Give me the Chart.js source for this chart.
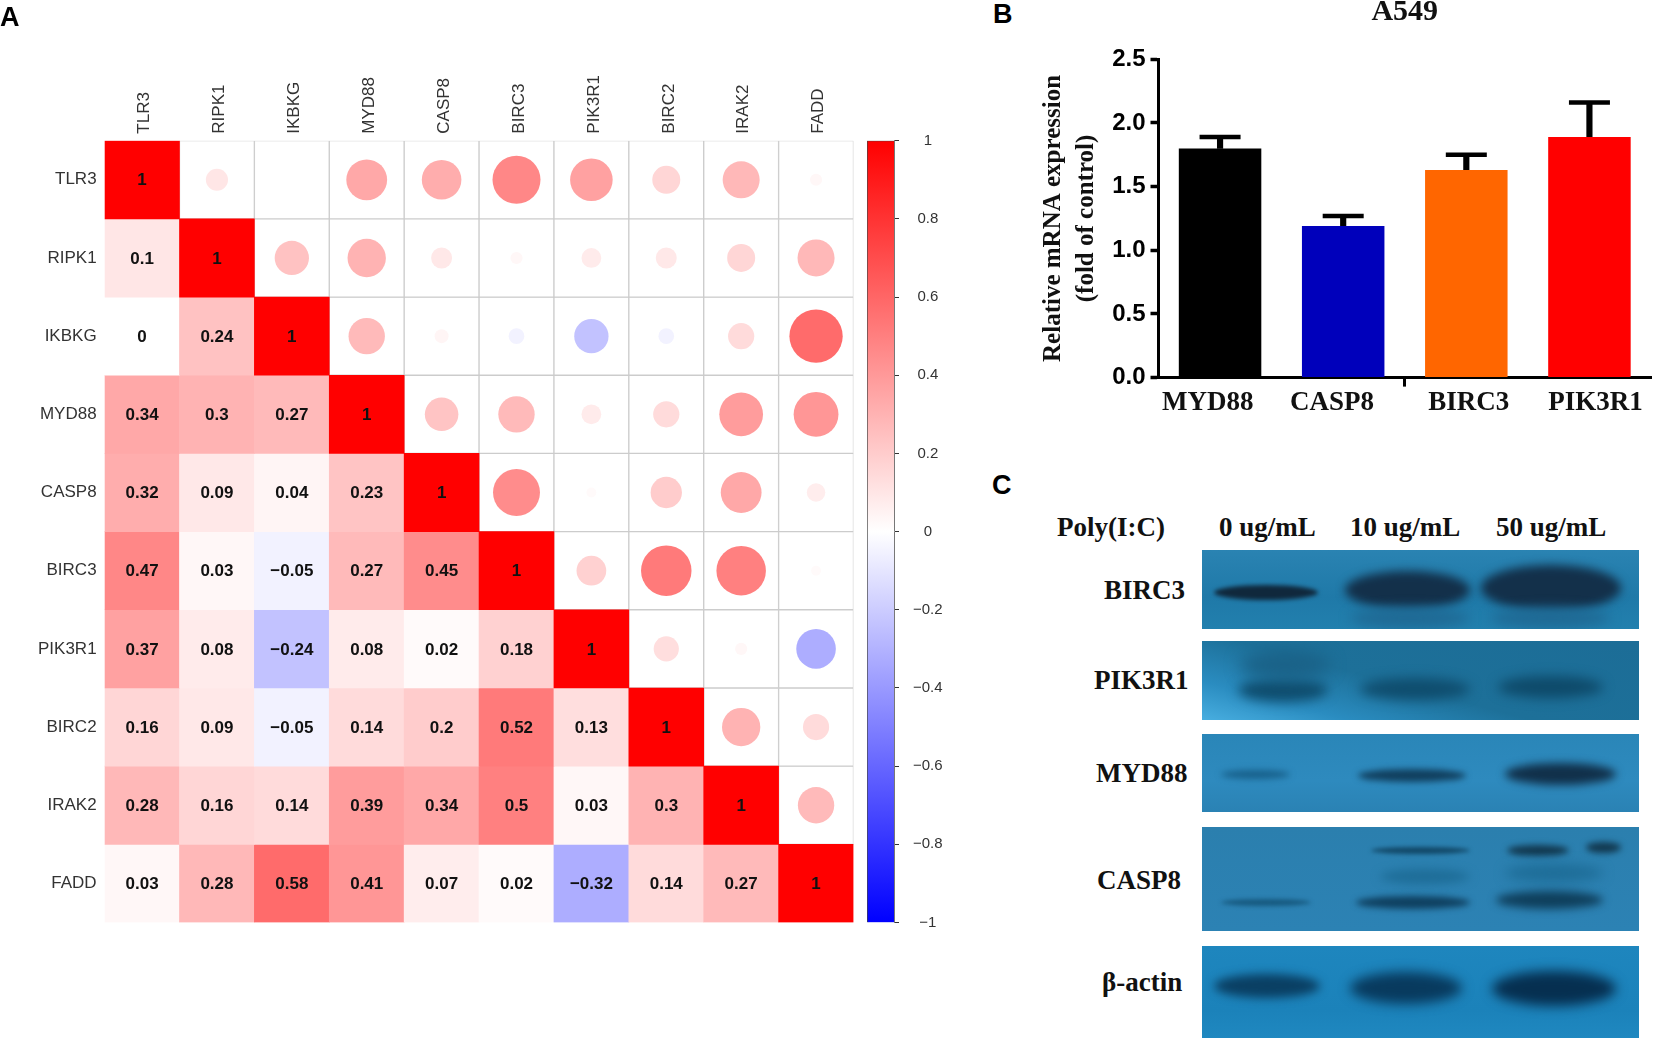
<!DOCTYPE html>
<html>
<head>
<meta charset="utf-8">
<title>A549</title>
<script src="https://cdn.jsdelivr.net/npm/chart.js@4/dist/chart.umd.min.js"></script>
<style>
  html, body { margin: 0; padding: 0; background: #fff; }
  body { position: relative; width: 1654px; height: 1043px; overflow: hidden; }
  canvas { position: absolute; display: block; }
  .letter { position: absolute; font: bold 27px "Liberation Sans", sans-serif; color: #000; line-height: 27px; }
  .blot-text { position: absolute; font: bold 27px "Liberation Serif", serif; color: #111; line-height: 30px; white-space: nowrap; }
  .blot { position: absolute; overflow: hidden; }
  .band { position: absolute; border-radius: 50%; }
</style>
</head>
<body>
<canvas id="heatmap" width="862" height="950" style="left:0;top:0"></canvas>
<canvas id="colorbar" width="100" height="843" style="left:860px;top:110px"></canvas>
<canvas id="bars" width="617" height="446" style="left:1037px;top:-6px"></canvas>
<script>
Chart.defaults.font.family = '"Liberation Sans", Arial, sans-serif';
Chart.defaults.animation = false;
Chart.defaults.plugins.legend.display = false;
Chart.defaults.plugins.tooltip.enabled = false;

// Panel A, lower triangle of the correlation table
const genes = ["TLR3", "RIPK1", "IKBKG", "MYD88", "CASP8", "BIRC3", "PIK3R1", "BIRC2", "IRAK2", "FADD"];
const tlr3 = [1];
const ripk1 = [0.1, 1];
const ikbkg = [0, 0.24, 1];
const myd88 = [0.34, 0.3, 0.27, 1];
const casp8 = [0.32, 0.09, 0.04, 0.23, 1];
const birc3 = [0.47, 0.03, -0.05, 0.27, 0.45, 1];
const pik3r1 = [0.37, 0.08, -0.24, 0.08, 0.02, 0.18, 1];
const birc2 = [0.16, 0.09, -0.05, 0.14, 0.2, 0.52, 0.13, 1];
const irak2 = [0.28, 0.16, 0.14, 0.39, 0.34, 0.5, 0.03, 0.3, 1];
const fadd = [0.03, 0.28, 0.58, 0.41, 0.07, 0.02, -0.32, 0.14, 0.27, 1];
const corrRows = [tlr3, ripk1, ikbkg, myd88, casp8, birc3, pik3r1, birc2, irak2, fadd];
const colorbarRange = [-1, 1];

// Panel B
const barLabels = ["MYD88", "CASP8", "BIRC3", "PIK3R1"];
const barMeans = [1.8, 1.19, 1.63, 1.89];
const barTops = [1.89, 1.27, 1.75, 2.16];
const barColors = ["#000000", "#0000bb", "#ff6600", "#ff0000"];
const barLabelPos = [-0.1, 0.91, 2.02, 3.05]; // labels sit off-centre in the figure
const barTicks = [0, 0.5, 1, 1.5, 2, 2.5];

function corrColor(v) {
  const k = Math.round(255 * (1 - Math.abs(v)));
  return v >= 0 ? `rgb(255,${k},${k})` : `rgb(${k},${k},255)`;
}

function fmt(v) {
  return String(v).replace("-", "\u2212");
}

// Every cell is a floating bar, one dataset per row
const cellDatasets = [];
genes.forEach((g, r) => {
  const span = [r, r + 1];
  cellDatasets.push({
    label: g + " upper",
    data: genes.map((_, c) => (c > r ? span : null)),
    backgroundColor: "#ffffff",
    borderColor: "#cccccc",
    borderWidth: 1,
    borderSkipped: false,
    grouped: false,
    barPercentage: 1,
    categoryPercentage: 1,
    order: 3,
  });
  cellDatasets.push({
    label: g + " lower",
    data: genes.map((_, c) => (c <= r ? span : null)),
    values: genes.map((_, c) => (c <= r ? corrRows[r][c] : null)),
    backgroundColor: genes.map((_, c) => (c <= r ? corrColor(corrRows[r][c]) : "#fff")),
    grouped: false,
    barPercentage: 1,
    categoryPercentage: 1,
    order: 2,
  });
});

// Upper triangle circles, area follows |r|
const circles = [];
genes.forEach((g, r) => {
  genes.forEach((h, c) => {
    if (c > r) {
      const v = corrRows[c][r];
      circles.push({ x: h, y: r + 0.5, r: 35 * Math.sqrt(Math.abs(v)), v: v });
    }
  });
});

const cellTextPlugin = {
  id: "cellText",
  afterDatasetsDraw(chart) {
    const { ctx } = chart;
    ctx.save();
    ctx.font = 'bold 17px "Liberation Sans"';
    ctx.fillStyle = "#111";
    ctx.textAlign = "center";
    ctx.textBaseline = "middle";
    chart.data.datasets.forEach((ds, i) => {
      if (!ds.values) return;
      chart.getDatasetMeta(i).data.forEach((el, j) => {
        if (ds.values[j] === null) return;
        ctx.fillText(fmt(ds.values[j]), el.x, (el.y + el.base) / 2 + 1);
      });
    });
    ctx.restore();
  },
};

new Chart(document.getElementById("heatmap"), {
  type: "bar",
  data: {
    labels: genes,
    datasets: [
      {
        type: "bubble",
        data: circles,
        backgroundColor: (c) => (c.raw ? corrColor(c.raw.v) : "#fff"),
        borderWidth: 0,
        order: 1,
      },
      ...cellDatasets,
    ],
  },
  options: {
    responsive: false,
    layout: { autoPadding: false, padding: { right: 8.5, bottom: 27.5 } },
    scales: {
      x: {
        type: "category",
        position: "top",
        offset: true,
        grid: { display: false, drawTicks: false },
        border: { display: false },
        ticks: { minRotation: 90, maxRotation: 90, autoSkip: false, padding: 7, labelOffset: 23, color: "#333", font: { size: 17 } },
        afterFit(s) { s.height = 140.7; },
      },
      y: {
        type: "linear",
        reverse: true,
        min: 0,
        max: 10,
        grid: { display: false, drawTicks: false },
        border: { display: false },
        afterBuildTicks(s) { s.ticks = genes.map((_, i) => ({ value: i + 0.5 })); },
        ticks: { autoSkip: false, padding: 8, color: "#333", font: { size: 17 }, callback: (v, i) => genes[i] },
        afterFit(s) { s.width = 104.6; },
      },
    },
  },
  plugins: [cellTextPlugin],
});

new Chart(document.getElementById("colorbar"), {
  type: "bar",
  data: {
    labels: ["r"],
    datasets: [{
      data: [colorbarRange],
      barPercentage: 1,
      categoryPercentage: 1,
      borderWidth: { left: 1, top: 1 },
      borderColor: "#444",
      borderSkipped: false,
      backgroundColor(c) {
        const a = c.chart.chartArea;
        if (!a) return "#fff";
        const g = c.chart.ctx.createLinearGradient(0, a.bottom, 0, a.top);
        g.addColorStop(0, "#0000ff");
        g.addColorStop(0.5, "#ffffff");
        g.addColorStop(1, "#ff0000");
        return g;
      },
    }],
  },
  options: {
    responsive: false,
    layout: { autoPadding: false, padding: { left: 7, top: 30.7, bottom: 30.5 } },
    scales: {
      x: { display: false },
      y: {
        position: "right",
        min: -1,
        max: 1,
        beginAtZero: false,
        grid: { drawOnChartArea: false, tickLength: 5, tickColor: "#333" },
        border: { color: "#777" },
        ticks: {
          stepSize: 0.2,
          padding: 14,
          crossAlign: "center",
          color: "#333",
          font: { size: 15 },
          callback: (v) => fmt(Math.round(v * 10) / 10),
        },
        afterFit(s) { s.width = 66; },
      },
    },
  },
});

new Chart(document.getElementById("bars"), {
  type: "bar",
  data: {
    labels: barLabels,
    datasets: [
      {
        type: "line",
        data: barTops,
        showLine: false,
        pointStyle: "line",
        pointRadius: 20.5,
        pointBorderWidth: 4.5,
        pointBorderColor: "#000",
        order: 1,
      },
      {
        data: barMeans,
        backgroundColor: barColors,
        grouped: false,
        barPercentage: 1,
        categoryPercentage: 0.67,
        order: 2,
      },
      {
        data: barMeans.map((m, i) => [m, barTops[i]]),
        backgroundColor: "#000",
        grouped: false,
        barThickness: 5.5,
        order: 3,
      },
    ],
  },
  options: {
    responsive: false,
    layout: { autoPadding: false, padding: { right: 3, bottom: 21 } },
    plugins: {
      title: {
        display: true,
        fullSize: false,
        text: "A549",
        color: "#111",
        font: { family: '"Liberation Serif", serif', size: 30, weight: "bold" },
        padding: { top: 0, bottom: 29.3 },
        align: "center",
      },
    },
    scales: {
      x: {
        type: "category",
        offset: true,
        grid: {
          drawOnChartArea: false,
          offset: true,
          tickLength: 9,
          tickWidth: 3,
          tickColor: (c) => (c.index === 2 ? "#000" : "transparent"),
        },
        border: { color: "#000", width: 3 },
        ticks: { display: false },
      },
      xNames: {
        type: "linear",
        position: "bottom",
        offset: false,
        min: -0.5,
        max: 3.5,
        grid: { display: false, drawTicks: false },
        border: { display: false },
        afterBuildTicks(s) { s.ticks = barLabelPos.map((p) => ({ value: p })); },
        ticks: {
          autoSkip: false,
          maxRotation: 0,
          padding: 0,
          color: "#111",
          font: { family: '"Liberation Serif", serif', size: 27, weight: "bold" },
          callback: (v, i) => barLabels[i],
        },
      },
      y: {
        min: 0,
        max: 2.5,
        grid: { drawOnChartArea: false, tickLength: 8, tickWidth: 3.5, tickColor: "#000" },
        border: { color: "#000", width: 3 },
        afterBuildTicks(s) { s.ticks = barTicks.map((t) => ({ value: t })); },
        ticks: {
          padding: 5,
          color: "#000",
          font: { size: 24, weight: "bold" },
          callback: (v) => v.toFixed(1),
        },
        title: {
          display: true,
          text: ["Relative mRNA expression", "(fold of control)"],
          color: "#111",
          font: { family: '"Liberation Serif", serif', size: 25, weight: "bold", lineHeight: 1.33 },
          padding: 0,
        },
        afterFit(s) { s.width = 121.5; },
      },
    },
  },
});

// Panel letters and panel C text
const pageText = [
  ["letter", "A", 0, 4],
  ["letter", "B", 993, 1],
  ["letter", "C", 992, 472],
  ["blot-text", "Poly(I:C)", 1057, 512],
  ["blot-text", "0 ug/mL", 1219, 512],
  ["blot-text", "10 ug/mL", 1350, 512],
  ["blot-text", "50 ug/mL", 1496, 512],
  ["blot-text", "BIRC3", 1104, 575],
  ["blot-text", "PIK3R1", 1094, 665],
  ["blot-text", "MYD88", 1096, 758],
  ["blot-text", "CASP8", 1097, 865],
  ["blot-text", "\u03b2-actin", 1102, 967],
];
pageText.forEach(([cls, text, x, y]) => {
  const d = document.createElement("div");
  d.className = cls;
  d.textContent = text;
  d.style.left = x + "px";
  d.style.top = y + "px";
  document.body.appendChild(d);
});

// Panel C is a photograph, approximated with blurred bands
const blotPanels = [
  [550, 79, "linear-gradient(180deg,#2a83b2,#1f79a8 60%,#2280ae)", [
    [1214, 1318, 592, 15, "#10283c", 2], [1345, 1470, 590, 38, "#13304a", 5], [1481, 1621, 588, 46, "#13304a", 5],
    [1350, 1470, 618, 20, "#1f6a95", 6], [1490, 1610, 618, 20, "#1f6a95", 6],
  ]],
  [641, 79, "linear-gradient(195deg,#1c6d97,#1d7099 55%,#2a8cc0 80%,#48aee0)", [
    [1238, 1328, 690, 24, "#0f4d6e", 6], [1360, 1470, 689, 22, "#0f4d6e", 6], [1498, 1603, 687, 22, "#0e4a6a", 6],
    [1240, 1330, 665, 30, "#1a6288", 8],
  ]],
  [734, 78, "linear-gradient(180deg,#2a86b8,#2e8abe 60%,#2a82b4)", [
    [1221, 1290, 774, 9, "#18618c", 3], [1358, 1466, 775, 13, "#113f5e", 3], [1505, 1616, 774, 22, "#11304a", 4],
  ]],
  [827, 104, "linear-gradient(180deg,#2b7fae,#2c82b4)", [
    [1371, 1470, 850, 7, "#124868", 2], [1507, 1569, 850, 11, "#12384f", 3], [1586, 1621, 847, 11, "#12384f", 3],
    [1380, 1470, 876, 15, "#1e6d98", 5], [1505, 1603, 873, 18, "#1e6d98", 6],
    [1221, 1311, 902, 7, "#175a80", 2], [1356, 1470, 902, 13, "#0f4060", 3], [1496, 1603, 900, 18, "#0f3f5c", 4],
  ]],
  [946, 92, "linear-gradient(180deg,#1e86be,#1b82ba 70%,#1f88c0)", [
    [1214, 1320, 986, 24, "#0a3f63", 5], [1350, 1462, 988, 32, "#083a5e", 6], [1492, 1616, 988, 35, "#062f50", 6],
  ]],
];
blotPanels.forEach(([top, height, bg, bands]) => {
  const p = document.createElement("div");
  p.className = "blot";
  p.style.cssText = `left:1202px;top:${top}px;width:437px;height:${height}px;background:${bg}`;
  bands.forEach(([x0, x1, cy, h, color, blur]) => {
    const b = document.createElement("div");
    b.className = "band";
    b.style.cssText = `left:${x0 - 1202}px;top:${cy - h / 2 - top}px;width:${x1 - x0}px;height:${h}px;background:${color};filter:blur(${blur}px)`;
    p.appendChild(b);
  });
  document.body.appendChild(p);
});
</script>
</body>
</html>
